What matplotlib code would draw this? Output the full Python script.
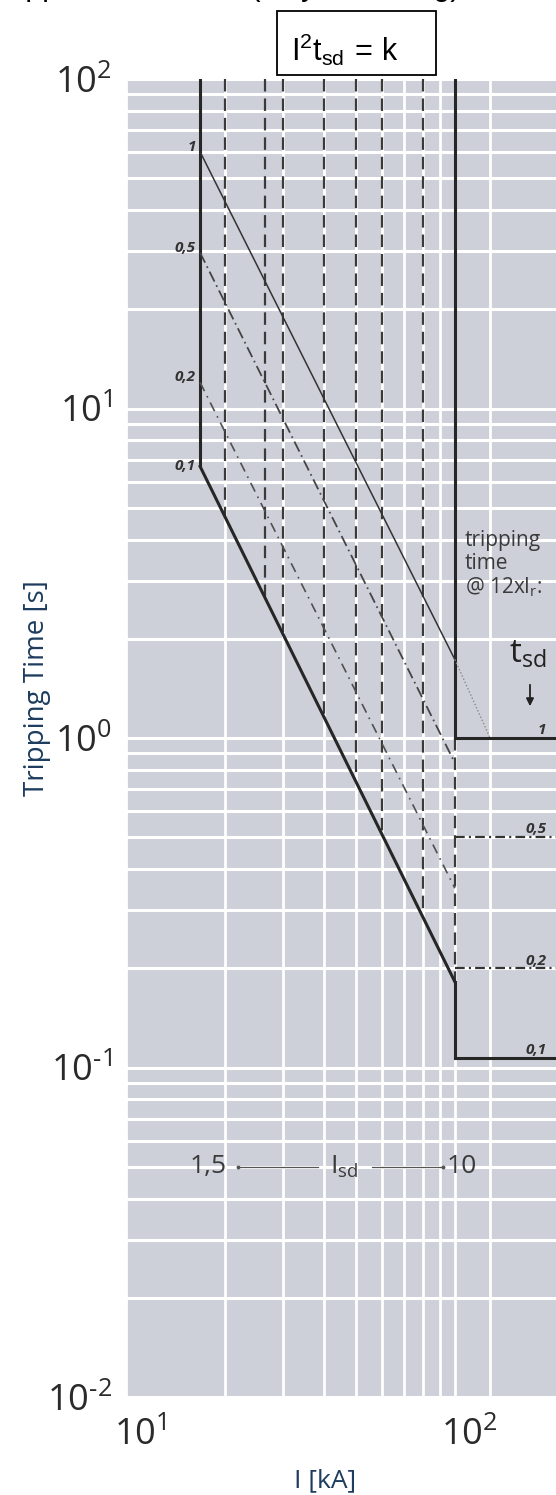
import numpy as np
import matplotlib
matplotlib.use("Agg")
import matplotlib.pyplot as plt
from matplotlib.ticker import FixedLocator, LogLocator, NullFormatter
from matplotlib.patches import Rectangle
import matplotlib.transforms as mtransforms

plt.rcParams['font.family'] = ['Open Sans', 'DejaVu Sans']
plt.rcParams['mathtext.fontset'] = 'custom'
plt.rcParams['mathtext.rm'] = 'Open Sans'
plt.rcParams['mathtext.sf'] = 'Liberation Sans'
plt.rcParams['mathtext.it'] = 'Open Sans:italic'
plt.rcParams['lines.scale_dashes'] = False

# --- values ---
I_min = 16.8          # Isd = 1,5
I_max = 100.0         # Isd = 10
I_12xIr = 128.0       # tripping time @ 12xIr
setting_I = [20, 26.4, 30, 40, 50, 60, 80]            # dashed Isd steps [kA]
setting_t_end = [4.7, 2.7, 2.1, 1.18, 0.75, 0.52, 0.30]  # where they meet the lowest curve
tsd_labels = ['1', '0,5', '0,2', '0,1']
t_start = [60.1, 29.7, 12.0, 6.67]     # I2t curves at I_min [s]
t_end = [1.73, 0.84, 0.35, 0.182]      # I2t curves at I_max [s]
t_flat = [1.0, 0.5, 0.2, 0.107]        # definite time tsd levels [s]
x_grid = [20, 30, 40, 50, 60, 70, 80, 90, 100, 128]
y_ticks = [1e-2, 1e-1, 1e0, 1e1, 1e2]
y_ticklabels = ['$\\mathregular{10^{\u20102}}$', '$\\mathregular{10^{\u20101}}$', r'$\mathregular{10^{0}}$',
                r'$\mathregular{10^{1}}$', r'$\mathregular{10^{2}}$']
x_ticks = [10, 100]
x_ticklabels = [r'$\mathregular{10^{1}}$', r'$\mathregular{10^{2}}$']

W, H = 556, 1495
def fx(px):
    return px / W
def fy(py):
    return 1 - py / H

fig = plt.figure(figsize=(W / 100, H / 100), dpi=100)
ax = fig.add_axes([fx(126), fy(1397), 1 - fx(126), (1397 - 79) / H])
ax.set_xscale('log')
ax.set_yscale('log')
ax.set_xlim(10, 203)
ax.set_ylim(0.01, 100)
ax.set_facecolor('#cdd0d8')
for s in ax.spines.values():
    s.set_visible(False)

ax.set_xticks(x_ticks, labels=x_ticklabels)
ax.set_yticks(y_ticks, labels=y_ticklabels)
ax.xaxis.set_minor_locator(FixedLocator(x_grid))
ax.yaxis.set_minor_locator(LogLocator(base=10, subs=np.arange(2, 10)))
ax.xaxis.set_minor_formatter(NullFormatter())
ax.yaxis.set_minor_formatter(NullFormatter())
ax.xaxis.grid(True, which='both', color='white', lw=2.0)
ax.yaxis.grid(True, which='both', color='white', lw=2.2)
ax.set_axisbelow(True)
ax.tick_params(which='both', length=0, labelsize=26, labelcolor='#2a2a2a')
ax.tick_params(axis='y', pad=10)
ax.tick_params(axis='x', pad=15)
shift = mtransforms.ScaledTranslation(14 / 100, 0, fig.dpi_scale_trans)
for lab in ax.get_xticklabels():
    lab.set_transform(lab.get_transform() + shift)

dark = '#262626'
# dashed Isd setting lines
for xi, te in zip(setting_I, setting_t_end):
    ax.plot([xi, xi], [100, te], color='#3a3a3a', lw=1.6, dashes=(9, 5))
ax.plot([I_max, I_max], [t_flat[0], t_end[3]], color='#3a3a3a', lw=1.6, dashes=(9, 5))

# boundary lines
ax.plot([I_min, I_min], [100, t_start[3]], color=dark, lw=2.2)
ax.plot([I_max, I_max], [100, t_flat[0]], color=dark, lw=2.2)
ax.plot([I_max, I_max], [t_end[3], t_flat[3]], color=dark, lw=2.2)

# I2t = k curves
ax.plot([I_min, I_max], [t_start[0], t_end[0]], color='#333333', lw=1.1)
ax.plot([I_min, I_max], [t_start[1], t_end[1]], color='#444444', lw=1.3, dashes=(8, 3, 1.2, 3))
ax.plot([I_min, I_max], [t_start[2], t_end[2]], color='#505050', lw=1.2, dashes=(7, 4, 1.2, 4))
ax.plot([I_min, I_max], [t_start[3], t_end[3]], color=dark, lw=2.2)
ax.plot([I_max, I_12xIr], [t_end[0], t_flat[0]], color='#8a8a8a', lw=1.0, dashes=(1, 1.5))

# definite time tsd levels
x_right = ax.get_xlim()[1]
ax.plot([I_max, x_right], [t_flat[0], t_flat[0]], color=dark, lw=2.2)
ax.plot([I_max, x_right], [t_flat[1], t_flat[1]], color='#333333', lw=1.6, dashes=(7, 3, 1.5, 3))
ax.plot([I_max, x_right], [t_flat[2], t_flat[2]], color='#333333', lw=1.6, dashes=(7, 3, 1.5, 3))
ax.plot([I_max, x_right], [t_flat[3], t_flat[3]], color=dark, lw=2.2)

lab_kw = dict(textcoords='offset points', fontsize=11, fontweight='bold',
              style='italic', color='#333333')
for i, lbl in enumerate(tsd_labels):
    va = 'center' if i == 3 else 'bottom'
    dy = 0 if i == 3 else -1.5
    ax.annotate(lbl, xy=(I_min, t_start[i]), xytext=(-3, dy), ha='right', va=va, **lab_kw)
    ax.annotate(lbl, xy=(x_right, t_flat[i]), xytext=(-7, 0.5), ha='right', va='bottom', **lab_kw)

# Isd range annotation
ax.text(17.8, 0.05, '1,5', ha='center', va='center', fontsize=19, color='#3a3a3a')
ax.text(46, 0.05, r'$\mathregular{I_{sd}}$', ha='center', va='center',
        fontsize=19, color='#3a3a3a')
ax.text(105, 0.05, '10', ha='center', va='center', fontsize=19, color='#3a3a3a')
ax.plot([21.9, 38.3], [0.05, 0.05], color='#555555', lw=0.9)
ax.plot([55.9, 92.0], [0.05, 0.05], color='#555555', lw=0.9)
ax.plot([21.9, 92.0], [0.05, 0.05], ls='none', marker='o', ms=1.8, color='#555555')

# right side notes
fig.text(fx(465), fy(530), 'tripping\ntime\n@ 12xI$_\\mathregular{r}$:', ha='left', va='top',
         fontsize=15, color='#3a3a3a', linespacing=1.1)
fig.text(fx(528), fy(654), r'$\mathregular{t_{sd}}$', ha='center', va='center',
         fontsize=24, color='#222222')
ax.annotate('', xy=(fx(530), fy(709)), xytext=(fx(530), fy(682)), xycoords='figure fraction',
            textcoords='figure fraction',
            arrowprops=dict(arrowstyle='-|>', color='#222222', lw=1.3, mutation_scale=11))

# axis labels
navy = '#1d3c5e'
fig.text(fx(37), fy(688), 'Tripping Time [s]', rotation=90, ha='center', va='center',
         fontsize=20, color=navy)
fig.text(fx(325), fy(1481), 'I [kA]', ha='center', va='center', fontsize=19, color=navy)

# formula box
fig.add_artist(Rectangle((fx(277), fy(75)), (436 - 277) / W, (75 - 11) / H,
                         transform=fig.transFigure, fill=False, ec='black', lw=1.3))
fig.text(fx(345), fy(50), r'$\mathsf{I^{2}t_{sd}\,=\,k}$', ha='center', va='center',
         fontsize=22, color='black')

# heading cut off at the top edge
fig.text(fx(-12), fy(-28), 'Supplement curve: (only I\u00b2t setting)', ha='left', va='top',
         fontsize=22, family='Liberation Sans', color='black')

fig.savefig('out.png', dpi=100)
